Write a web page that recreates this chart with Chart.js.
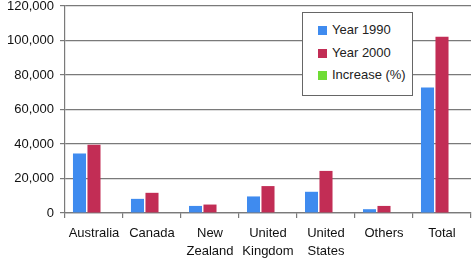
<!DOCTYPE html>
<html><head><meta charset="utf-8">
<script src="https://cdn.jsdelivr.net/npm/chart.js@4/dist/chart.umd.min.js"></script>
<style>
html,body{margin:0;padding:0;background:#fff;}
#wrap{position:relative;width:473px;height:259px;}
#legend{position:absolute;left:302px;top:12px;width:111px;height:84px;border:1px solid #666;background:#fff;box-sizing:border-box;font-family:"Liberation Sans",Arial,sans-serif;font-size:13px;color:#222;padding-top:11px;}
#legend div{height:22.5px;line-height:12px;padding-left:15px;white-space:nowrap;}
#legend span{display:inline-block;width:9px;height:9px;margin-right:5px;vertical-align:-1px;}
</style></head>
<body><div id="wrap"><canvas id="c" width="473" height="259"></canvas><div id="legend"></div></div>
<script>
const categories = [["Australia"],["Canada"],["New","Zealand"],["United","Kingdom"],["United","States"],["Others"],["Total"]];
const year1990 = [34500, 8200, 4100, 9600, 12300, 2200, 72700];
const year2000 = [39500, 11700, 4900, 15600, 24400, 4100, 102200];
const increasePct = [0, 0, 0, 0, 0, 0, 0];
const seriesNames = ["Year 1990","Year 2000","Increase (%)"];
const colors = ["#3f8bef","#c22d55","#6fdc35"];
const yTicks = [0,20000,40000,60000,80000,100000,120000];

const datasets = [year1990, year2000, increasePct].map((d,i)=>({label:seriesNames[i],data:d,backgroundColor:colors[i],categoryPercentage:0.75,barPercentage:0.9}));
const font = {family:'"Liberation Sans", Arial, sans-serif', size:13, lineHeight:1.35};
new Chart(document.getElementById('c'),{
  type:'bar',
  data:{labels:categories,datasets},
  options:{
    responsive:false,animation:false,
    layout:{padding:{left:1,right:2,top:6,bottom:0}},
    plugins:{legend:{display:false},tooltip:{enabled:false}},
    scales:{
      x:{grid:{offset:true,drawOnChartArea:false,tickLength:5,color:'#7a7a7a',lineWidth:1.2},border:{color:'#7a7a7a',width:1.2},
         afterFit:(s)=>{s.height=46;},
         ticks:{color:'#111',font,padding:7,maxRotation:0,autoSkip:false}},
      y:{min:0,max:120000,afterBuildTicks:(s)=>{s.ticks=yTicks.map(v=>({value:v}));},
         afterFit:(s)=>{s.paddingTop=0;s.paddingBottom=0;},
         grid:{color:'#7a7a7a',lineWidth:1.2,tickLength:5},border:{color:'#7a7a7a',width:1.2},
         ticks:{color:'#111',font,padding:6,callback:(v)=>v.toLocaleString('en-US')}}
    }
  }
});
const lg=document.getElementById('legend');
seriesNames.forEach((n,i)=>{const d=document.createElement('div');d.innerHTML='<span style="background:'+colors[i]+'"></span>'+n;lg.appendChild(d);});
</script></body></html>
